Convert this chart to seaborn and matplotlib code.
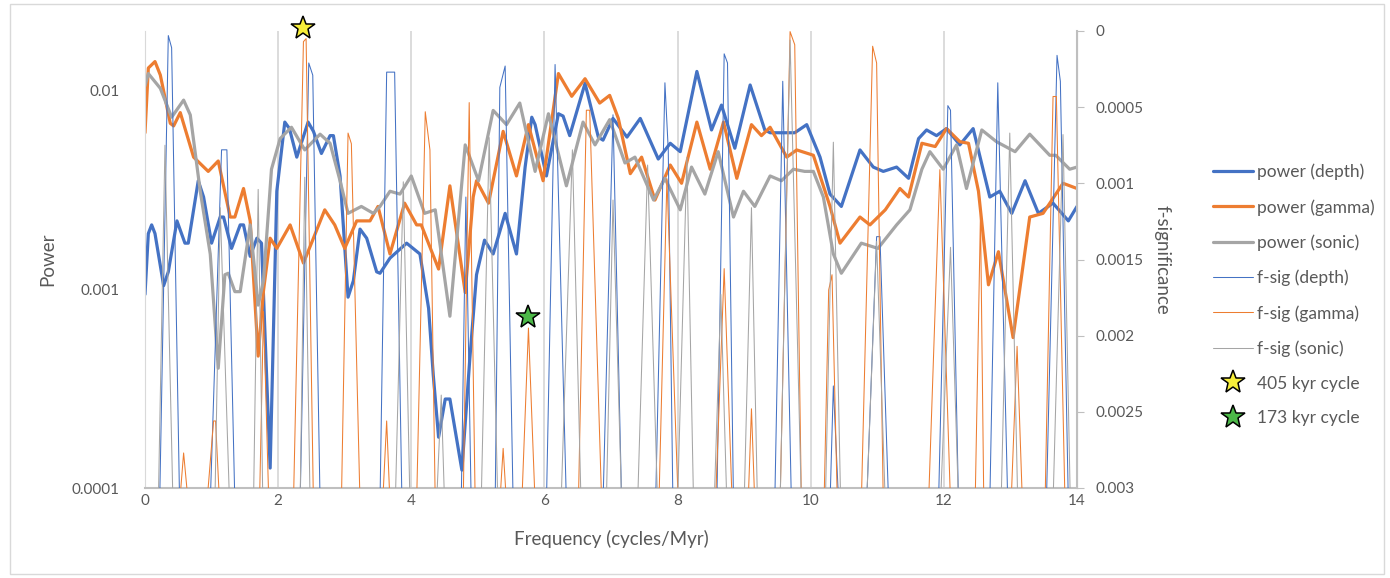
import matplotlib
matplotlib.use('Agg')
import matplotlib.pyplot as plt
import seaborn as sns
from matplotlib.lines import Line2D
from matplotlib.patches import Rectangle

# power spectra (left axis, log)
depth_f = [0.00, 0.05, 0.10, 0.15, 0.28, 0.35, 0.48, 0.60, 0.65, 0.80, 0.88, 1.00, 1.13, 1.18, 1.30,
           1.43, 1.48, 1.58, 1.68, 1.75, 1.88, 1.98, 2.10, 2.17, 2.28, 2.45, 2.53, 2.65, 2.78, 2.83,
           2.93, 3.05, 3.13, 3.23, 3.33, 3.48, 3.53, 3.68, 3.93, 4.13, 4.26, 4.33, 4.41, 4.51, 4.58,
           4.76, 4.88, 4.98, 5.10, 5.23, 5.41, 5.58, 5.71, 5.81, 5.86, 6.03, 6.21, 6.28, 6.38, 6.61,
           6.81, 6.88, 7.03, 7.24, 7.44, 7.71, 7.89, 8.04, 8.29, 8.51, 8.66, 8.86, 9.09, 9.31, 9.39,
           9.76, 9.94, 10.14, 10.29, 10.46, 10.74, 10.94, 11.09, 11.29, 11.47, 11.62, 11.74, 11.89,
           12.04, 12.24, 12.44, 12.69, 12.84, 13.02, 13.22, 13.42, 13.64, 13.87, 14.00]
depth_p = [0.00094, 0.0019, 0.0021, 0.0019, 0.00104, 0.00122, 0.0022, 0.0017, 0.0017, 0.0035, 0.0029,
           0.0017, 0.0023, 0.0023, 0.0016, 0.0021, 0.0021, 0.00146, 0.0018, 0.0017, 0.000126, 0.0031,
           0.0069, 0.0064, 0.0046, 0.0069, 0.0062, 0.0048, 0.0059, 0.0059, 0.0037, 0.00091, 0.0011,
           0.0020, 0.0018, 0.00122, 0.0012, 0.00143, 0.0017, 0.0015, 0.0008, 0.00037, 0.00018,
           0.00028, 0.00028, 0.000123, 0.00045, 0.00118, 0.00176, 0.0015, 0.0024, 0.0015, 0.0041,
           0.0073, 0.0067, 0.0037, 0.0076, 0.0074, 0.0059, 0.0108, 0.0058, 0.0056, 0.0072, 0.0058,
           0.0072, 0.0045, 0.0054, 0.0049, 0.0124, 0.0063, 0.0084, 0.0051, 0.0106, 0.0063, 0.0061,
           0.0061, 0.0067, 0.0046, 0.0030, 0.0026, 0.0050, 0.0041, 0.0039, 0.0041, 0.0036, 0.0057,
           0.0063, 0.0059, 0.0064, 0.0053, 0.0064, 0.0029, 0.0031, 0.0024, 0.0035, 0.0024, 0.0027,
           0.0022, 0.0026]

gamma_f = [0.00, 0.05, 0.15, 0.23, 0.38, 0.43, 0.53, 0.73, 0.95, 1.10, 1.28, 1.35, 1.48, 1.58, 1.70,
           1.78, 1.88, 1.98, 2.18, 2.38, 2.53, 2.70, 2.85, 3.00, 3.18, 3.38, 3.50, 3.68, 3.90, 4.08,
           4.15, 4.41, 4.58, 4.81, 4.93, 4.98, 5.16, 5.38, 5.58, 5.76, 5.98, 6.21, 6.41, 6.61, 6.83,
           6.98, 7.11, 7.29, 7.46, 7.66, 7.89, 8.06, 8.29, 8.49, 8.69, 8.89, 9.11, 9.26, 9.39, 9.64,
           9.79, 10.04, 10.29, 10.44, 10.74, 10.89, 11.12, 11.34, 11.47, 11.67, 11.87, 12.04, 12.24,
           12.37, 12.52, 12.67, 12.82, 13.04, 13.29, 13.49, 13.79, 14.00]
gamma_p = [0.0061, 0.0129, 0.0139, 0.0119, 0.0068, 0.0066, 0.0077, 0.0046, 0.0039, 0.0044, 0.0023,
           0.0023, 0.0032, 0.0022, 0.00046, 0.00098, 0.0018, 0.0016, 0.0021, 0.00135, 0.0018, 0.0025,
           0.0021, 0.0016, 0.0022, 0.0022, 0.0026, 0.0015, 0.0027, 0.0021, 0.0021, 0.00126, 0.0033,
           0.00096, 0.0029, 0.0035, 0.0027, 0.0062, 0.0037, 0.0067, 0.0035, 0.0121, 0.0093, 0.0114,
           0.0086, 0.0094, 0.0072, 0.0038, 0.0046, 0.0028, 0.0042, 0.0034, 0.0069, 0.0040, 0.0069,
           0.0036, 0.0067, 0.0059, 0.0065, 0.0046, 0.0050, 0.0047, 0.0026, 0.0017, 0.0023, 0.0021,
           0.0025, 0.0032, 0.0029, 0.0054, 0.0052, 0.0064, 0.0055, 0.0054, 0.0031, 0.00105, 0.00154,
           0.00057, 0.0023, 0.0024, 0.0034, 0.0032]

sonic_f = [0.00, 0.05, 0.23, 0.40, 0.58, 0.68, 0.83, 0.98, 1.10, 1.20, 1.25, 1.35, 1.43, 1.58, 1.70,
           1.78, 1.90, 2.03, 2.20, 2.40, 2.63, 2.78, 2.93, 3.05, 3.25, 3.43, 3.53, 3.68, 3.83, 4.00,
           4.20, 4.36, 4.58, 4.81, 5.01, 5.23, 5.43, 5.63, 5.86, 6.06, 6.33, 6.58, 6.76, 6.98, 7.21,
           7.36, 7.64, 7.81, 8.04, 8.21, 8.41, 8.61, 8.84, 8.99, 9.16, 9.39, 9.56, 9.74, 9.91, 10.04,
           10.19, 10.34, 10.46, 10.76, 11.01, 11.29, 11.49, 11.67, 11.79, 11.99, 12.19, 12.34, 12.57,
           12.79, 13.07, 13.29, 13.59, 13.68, 13.89, 14.00]
sonic_p = [0.0105, 0.0121, 0.0102, 0.0073, 0.0089, 0.0075, 0.0031, 0.0015, 0.0004, 0.00118, 0.0012,
           0.00097, 0.00097, 0.0021, 0.00083, 0.0011, 0.0040, 0.0057, 0.0065, 0.0050, 0.0060, 0.0054,
           0.0035, 0.0024, 0.0026, 0.0024, 0.0026, 0.0031, 0.0030, 0.0037, 0.0024, 0.0025, 0.00073,
           0.0053, 0.0035, 0.0079, 0.0067, 0.0086, 0.0039, 0.0076, 0.0033, 0.0069, 0.0053, 0.0071,
           0.0043, 0.0046, 0.0028, 0.0036, 0.0025, 0.0041, 0.0030, 0.0049, 0.0023, 0.0031, 0.0026,
           0.0037, 0.0035, 0.0040, 0.0039, 0.0039, 0.0029, 0.0015, 0.0012, 0.0017, 0.0016, 0.0021,
           0.0025, 0.0040, 0.0049, 0.0040, 0.0053, 0.0032, 0.0063, 0.0055, 0.0049, 0.0060, 0.0047,
           0.0047, 0.0040, 0.0041]

# f-significance (right axis, reversed); 0.0031 = below the axis floor
sig_depth_f = [0.22, 0.35, 0.40, 0.52, 0.98, 1.15, 1.23, 1.35, 2.33, 2.46, 2.52, 2.63, 3.53, 3.63, 3.75,
               3.86, 4.75, 4.82, 4.90, 5.26, 5.33, 5.41, 5.53, 6.03, 6.16, 6.33, 6.88, 7.03, 7.16, 7.67,
               7.81, 7.86, 7.93, 8.59, 8.70, 8.75, 8.84, 9.46, 9.58, 9.71, 10.29, 10.34, 10.42, 10.84,
               10.99, 11.04, 11.17, 11.92, 12.06, 12.10, 12.22, 12.69, 12.81, 12.96, 13.54, 13.70, 13.75,
               13.87]
sig_depth_v = [0.0031, 0.00003, 0.00011, 0.0031, 0.0031, 0.00078, 0.00078, 0.0031, 0.0031, 0.00021,
               0.00029, 0.0031, 0.0031, 0.00027, 0.00027, 0.0031, 0.0031, 0.00109, 0.0031, 0.0031,
               0.00037, 0.00023, 0.0031, 0.0031, 0.00022, 0.0031, 0.0031, 0.00055, 0.0031, 0.0031,
               0.00034, 0.00078, 0.0031, 0.0031, 0.00015, 0.00021, 0.0031, 0.0031, 0.00033, 0.0031,
               0.0031, 0.00233, 0.0031, 0.0031, 0.00135, 0.00135, 0.0031, 0.0031, 0.00049, 0.00052,
               0.0031, 0.0031, 0.00034, 0.0031, 0.0031, 0.00016, 0.00033, 0.0031]

sig_gamma_f = [0.52, 0.58, 0.65, 0.93, 1.03, 1.06, 1.12, 1.72, 1.78, 1.86, 2.23, 2.38, 2.42, 2.53, 2.95,
               3.05, 3.10, 3.23, 3.57, 3.63, 3.68, 4.08, 4.21, 4.28, 4.36, 4.78, 4.87, 4.96, 5.33, 5.38,
               5.43, 5.66, 5.76, 5.86, 6.51, 6.63, 6.68, 6.86, 7.72, 7.84, 8.01, 8.57, 8.70, 8.82, 9.06,
               9.11, 9.16, 9.54, 9.69, 9.76, 9.86, 10.20, 10.27, 10.32, 10.40, 10.76, 10.93, 10.99,
               11.09, 11.77, 11.94, 12.10, 12.47, 12.55, 12.60, 13.01, 13.10, 13.18, 13.52, 13.64,
               13.69, 13.82]
sig_gamma_v = [0.0031, 0.00277, 0.0031, 0.0031, 0.00256, 0.00256, 0.0031, 0.0031, 0.00184, 0.0031,
               0.0031, 0.00007, 0.00005, 0.0031, 0.0031, 0.00067, 0.00074, 0.0031, 0.0031, 0.00256,
               0.0031, 0.0031, 0.00053, 0.00078, 0.0031, 0.0031, 0.00047, 0.0031, 0.0031, 0.00274,
               0.0031, 0.0031, 0.00195, 0.0031, 0.0031, 0.00052, 0.00052, 0.0031, 0.0031, 0.00097,
               0.0031, 0.0031, 0.00156, 0.0031, 0.0031, 0.00248, 0.0031, 0.0031, 0.000004, 0.00009,
               0.0031, 0.0031, 0.0017, 0.0016, 0.0031, 0.0031, 0.0001, 0.00021, 0.0031, 0.0031,
               0.00091, 0.0031, 0.0031, 0.0012, 0.0031, 0.0031, 0.00207, 0.0031, 0.0031, 0.00043,
               0.00043, 0.0031]

sig_sonic_f = [0.20, 0.30, 0.42, 1.05, 1.13, 1.27, 1.63, 1.70, 1.77, 2.33, 2.40, 2.48, 3.76, 3.88, 3.98,
               4.38, 4.45, 4.50, 5.05, 5.17, 5.30, 6.25, 6.42, 6.55, 6.93, 7.03, 7.16, 7.40, 7.55, 7.70,
               8.00, 8.14, 8.24, 8.55, 8.65, 8.74, 9.00, 9.11, 9.20, 9.54, 9.69, 9.86, 10.22, 10.34,
               10.45, 10.84, 10.99, 11.12, 11.95, 12.10, 12.22, 12.86, 12.99, 13.11, 13.64, 13.79, 13.90]
sig_sonic_v = [0.0031, 0.00075, 0.0031, 0.0031, 0.00116, 0.0031, 0.0031, 0.00104, 0.0031, 0.0031,
               0.00096, 0.0031, 0.0031, 0.00099, 0.0031, 0.0031, 0.00239, 0.0031, 0.0031, 0.0007,
               0.0031, 0.0031, 0.00078, 0.0031, 0.0031, 0.00111, 0.0031, 0.0031, 0.00088, 0.0031,
               0.0031, 0.00083, 0.0031, 0.0031, 0.00173, 0.0031, 0.0031, 0.00116, 0.0031, 0.0031,
               0.00006, 0.0031, 0.0031, 0.00073, 0.0031, 0.0031, 0.00138, 0.0031, 0.0031, 0.00142,
               0.0031, 0.0031, 0.00067, 0.0031, 0.0031, 0.00068, 0.0031]

# cycle markers (frequency, f-sig)
star405 = (2.37, -0.00002)
star173 = (5.75, 0.00188)

labels = ['power (depth)', 'power (gamma)', 'power (sonic)',
          'f-sig (depth)', 'f-sig (gamma)', 'f-sig (sonic)',
          '405 kyr cycle', '173 kyr cycle']

blue, orange, grey = '#4472C4', '#ED7D31', '#A5A5A5'
txt = '#595959'
axc = '#bfbfbf'

sns.set_style('white')
plt.rcParams['font.family'] = ['Lato', 'DejaVu Sans']

fig = plt.figure(figsize=(13.9, 5.78), dpi=100)
ax = fig.add_axes([145/1390, 1-488/578, (1077-145)/1390, (488-31)/578])
fig.patches.append(Rectangle((10/1390, 4/578), 1374/1390, 570/578, transform=fig.transFigure,
                             fill=False, edgecolor='#d9d9d9', linewidth=1))

for f in [2, 4, 6, 8, 10, 12]:
    ax.axvline(f, color='#d9d9d9', linewidth=1.3, zorder=0)

sns.lineplot(x=depth_f, y=depth_p, ax=ax, color=blue, linewidth=2.3, estimator=None, sort=False)
sns.lineplot(x=gamma_f, y=gamma_p, ax=ax, color=orange, linewidth=2.3, estimator=None, sort=False)
sns.lineplot(x=sonic_f, y=sonic_p, ax=ax, color=grey, linewidth=2.3, estimator=None, sort=False)
ax.set_yscale('log')
ax.set_ylim(1e-4, 0.0198)
ax.set_xlim(0, 14)
ax.set_xticks(range(0, 15, 2))
ax.set_yticks([1e-4, 1e-3, 1e-2])
ax.set_yticklabels(['0.0001', '0.001', '0.01'])
ax.minorticks_off()
ax.tick_params(axis='both', length=0, labelsize=11, labelcolor=txt)
ax.tick_params(axis='y', pad=18)
ax.tick_params(axis='x', pad=4)
ax.set_xlabel('Frequency (cycles/Myr)', fontsize=13.5, color=txt, labelpad=16)
ax.set_ylabel('Power', fontsize=13.5, color=txt, labelpad=11)
ax.grid(False)
ax.spines['top'].set_visible(False)
for s in ['left', 'bottom', 'right']:
    ax.spines[s].set_color(axc)
ax.spines['left'].set_color('#d9d9d9')
ax.spines['bottom'].set_linewidth(1.5)

ax2 = ax.twinx()
sns.lineplot(x=sig_depth_f, y=sig_depth_v, ax=ax2, color=blue, linewidth=0.75, estimator=None, sort=False)
sns.lineplot(x=sig_gamma_f, y=sig_gamma_v, ax=ax2, color=orange, linewidth=0.75, estimator=None, sort=False)
sns.lineplot(x=sig_sonic_f, y=sig_sonic_v, ax=ax2, color=grey, linewidth=0.75, estimator=None, sort=False)
ax2.plot([star405[0]], [star405[1]], marker='*', markersize=18, color='#F7EE3A',
         markeredgecolor='black', markeredgewidth=1.1, linestyle='none', clip_on=False, zorder=10)
ax2.plot([star173[0]], [star173[1]], marker='*', markersize=18, color='#4CB848',
         markeredgecolor='black', markeredgewidth=1.1, linestyle='none', clip_on=False, zorder=10)
ax2.set_ylim(0.003, 0)
ax2.set_xlim(0, 14)
ax2.set_yticks([0, 0.0005, 0.001, 0.0015, 0.002, 0.0025, 0.003])
ax2.set_yticklabels(['0', '0.0005', '0.001', '0.0015', '0.002', '0.0025', '0.003'])
ax2.tick_params(axis='y', length=5, color=axc, labelsize=11, labelcolor=txt, pad=8)
ax2.set_ylabel('f-significance', fontsize=13.5, color=txt, rotation=-90, labelpad=20)
for s in ['top', 'left', 'bottom']:
    ax2.spines[s].set_visible(False)
ax2.spines['right'].set_color(axc)
ax2.spines['right'].set_linewidth(1.5)

handles = [Line2D([], [], color=blue, linewidth=2.3),
           Line2D([], [], color=orange, linewidth=2.3),
           Line2D([], [], color=grey, linewidth=2.3),
           Line2D([], [], color=blue, linewidth=0.75),
           Line2D([], [], color=orange, linewidth=0.75),
           Line2D([], [], color=grey, linewidth=0.75),
           Line2D([], [], marker='*', markersize=18, color='#F7EE3A', markeredgecolor='black',
                  markeredgewidth=1.1, linestyle='none'),
           Line2D([], [], marker='*', markersize=18, color='#4CB848', markeredgecolor='black',
                  markeredgewidth=1.1, linestyle='none')]
fig.legend(handles, labels, loc='center left', bbox_to_anchor=(1213/1390, 1-295/578),
           frameon=False, fontsize=12.5, labelcolor=txt, handlelength=2.3, handletextpad=0.25,
           labelspacing=1.08, borderpad=0, borderaxespad=0)

fig.savefig('out.png', dpi=100)
